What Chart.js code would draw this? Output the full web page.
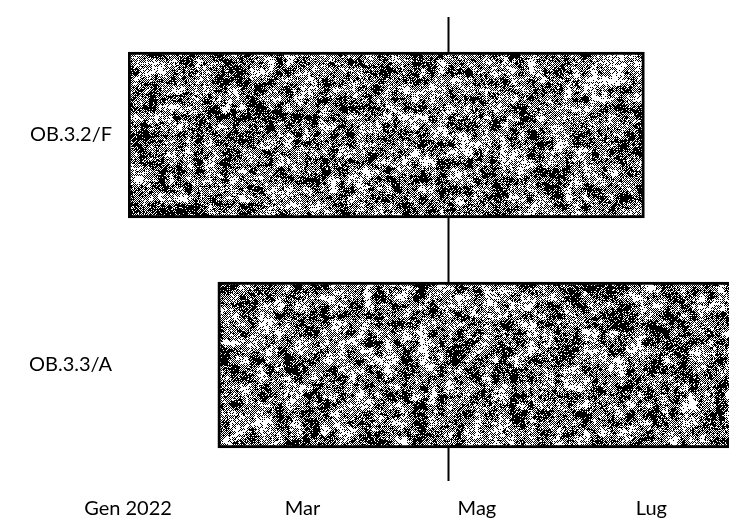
<!DOCTYPE html>
<html>
<head>
<meta charset="utf-8">
<script src="https://cdn.jsdelivr.net/npm/chart.js@4/dist/chart.umd.min.js"></script>
<style>
	html, body { margin: 0; padding: 0; background: #fff; }
	#wrap { width: 729px; height: 530px; position: relative; }
</style>
</head>
<body>
<div id="wrap"><canvas id="c"></canvas></div>
<script>
// months counted from 1 Jan 2022 (0 = Gen, 2 = Mar ...)
var tasks = ['OB.3.2/F', 'OB.3.3/A'];
var startMonth = [0, 1.03];
var endMonth = [5.92, 7.6];
var tickMonths = [0, 2, 4, 6];
var tickLabels = ['Gen 2022', 'Mar', 'Mag', 'Lug'];
var markerMonth = 3.67;

function hash(x, y, s) {
	var h = (x * 374761393 + y * 668265263 + s * 982451653) | 0;
	h = Math.imul(h ^ (h >>> 13), 1274126177);
	return ((h ^ (h >>> 16)) >>> 0) / 4294967295;
}

function vnoise(x, y, cell, s) {
	var gx = Math.floor(x / cell), gy = Math.floor(y / cell);
	var fx = x / cell - gx, fy = y / cell - gy;
	fx = fx * fx * (3 - 2 * fx);
	fy = fy * fy * (3 - 2 * fy);
	var a = hash(gx, gy, s), b = hash(gx + 1, gy, s);
	var c = hash(gx, gy + 1, s), d = hash(gx + 1, gy + 1, s);
	return a + (b - a) * fx + (c - a) * fy + (a - b - c + d) * fx * fy;
}

// grainy scanned-looking fill
function makeGrain(w, h) {
	var cv = document.createElement('canvas');
	cv.width = w; cv.height = h;
	var cx = cv.getContext('2d');
	var img = cx.createImageData(w, h);
	for (var y = 0; y < h; y++) {
		for (var x = 0; x < w; x++) {
			var n = 0.45 * vnoise(x, y, 9, 1) + 0.3 * vnoise(x, y, 3, 2) + 0.25 * hash(x, y, 3);
			var v;
			if (n > 0.64) v = 0;
			else if (n < 0.36) v = 255;
			else if (n > 0.57) v = ((x + y) % 3) ? 0 : 255;
			else v = ((x + y) & 1) ? 0 : 255;
			var i = (y * w + x) * 4;
			img.data[i] = img.data[i + 1] = img.data[i + 2] = v;
			img.data[i + 3] = 255;
		}
	}
	cx.putImageData(img, 0, 0);
	return cx.createPattern(cv, 'repeat');
}

var grain = makeGrain(729, 530);

var markerLine = {
	id: 'markerLine',
	beforeDatasetsDraw: function(chart) {
		var ctx = chart.ctx;
		var x = Math.round(chart.scales.x.getPixelForValue(markerMonth)) + 0.5;
		ctx.save();
		ctx.strokeStyle = '#000';
		ctx.lineWidth = 2;
		ctx.beginPath();
		ctx.moveTo(x, chart.chartArea.top - 3);
		ctx.lineTo(x, chart.chartArea.bottom + 1);
		ctx.stroke();
		ctx.restore();
	}
};

var bars = [];
for (var i = 0; i < tasks.length; i++) {
	bars.push([startMonth[i], endMonth[i]]);
}

new Chart(document.getElementById('c'), {
	type: 'bar',
	data: {
		labels: tasks,
		datasets: [{
			data: bars,
			backgroundColor: grain,
			borderColor: '#000',
			borderWidth: 3,
			borderSkipped: false,
			barThickness: 166
		}]
	},
	options: {
		indexAxis: 'y',
		responsive: true,
		maintainAspectRatio: false,
		animation: false,
		layout: { padding: { top: 20, right: 0, bottom: 0, left: 0 } },
		plugins: {
			legend: { display: false },
			tooltip: { enabled: false }
		},
		scales: {
			x: {
				type: 'linear',
				min: 0,
				max: 6.89,
				grid: { display: false },
				border: { display: false },
				afterBuildTicks: function(scale) {
					scale.ticks = tickMonths.map(function(v){ return { value: v }; });
				},
				afterFit: function(scale) { scale.height = 50; },
				ticks: {
					padding: 9,
					maxRotation: 0,
					color: '#000',
					font: { family: 'Lato', size: 20 },
					callback: function(value) {
						var k = tickMonths.indexOf(value);
						return k >= 0 ? tickLabels[k] : '';
					}
				}
			},
			y: {
				grid: { display: false },
				border: { display: false },
				afterFit: function(scale) { scale.width = 128; },
				ticks: {
					padding: 8,
					color: '#000',
					font: { family: 'Lato', size: 20 }
				}
			}
		}
	},
	plugins: [markerLine]
});
</script>
</body>
</html>
